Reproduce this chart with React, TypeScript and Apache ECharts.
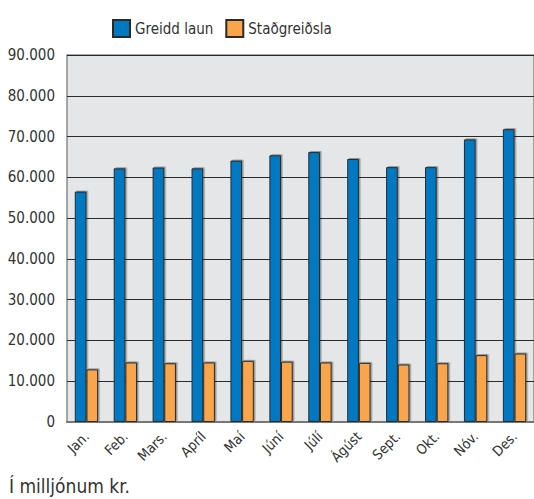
import React, { useEffect, useRef } from "react";
import * as echarts from "echarts";

const months = ["Jan.", "Feb.", "Mars.", "Apríl", "Maí", "Júní", "Júlí", "Ágúst", "Sept.", "Okt.", "Nóv.", "Des."];
const greiddLaun = [56500, 62200, 62400, 62200, 64100, 65400, 66200, 64500, 62500, 62500, 69300, 71800];
const stadgreidsla = [12900, 14600, 14400, 14600, 15000, 14800, 14600, 14500, 14100, 14400, 16400, 16800];
const seriesNames = ["Greidd laun", "Staðgreiðsla"];
const footnote = "Í milljónum kr.";

const FONT = "'DejaVu Sans Condensed', sans-serif";

export default function App() {
  const ref = useRef<HTMLDivElement>(null);
  useEffect(() => {
    if (!ref.current) return;
    const chart = echarts.init(ref.current, null, { renderer: "svg" });
    const barStyle = (color: string) => ({
      color,
      borderColor: "#2a2a2a",
      borderWidth: 1,
      shadowColor: "rgba(0,0,0,0.35)",
      shadowOffsetX: 1.5,
      shadowOffsetY: -1,
      shadowBlur: 1,
    });
    chart.setOption({
      animation: false,
      textStyle: { fontFamily: FONT },
      legend: {
        left: 107,
        top: 14,
        itemWidth: 17,
        itemHeight: 17,
        itemGap: 12,
        icon: "rect",
        textStyle: { fontSize: 15, color: "#333", fontFamily: FONT },
        data: seriesNames,
      },
      grid: {
        left: 67,
        right: 0,
        top: 55,
        bottom: 77,
        show: true,
        backgroundColor: "#e5e6e8",
        borderColor: "#8a8a8a",
        borderWidth: 1.5,
      },
      xAxis: {
        type: "category",
        data: months,
        axisTick: { show: false },
        axisLine: { lineStyle: { color: "#777", width: 2 } },
        axisLabel: {
          rotate: 45,
          interval: 0,
          fontSize: 14,
          color: "#333",
          fontFamily: FONT,
          margin: 12,
        },
      },
      yAxis: {
        type: "value",
        min: 0,
        max: 90000,
        interval: 10000,
        axisLine: { show: false },
        axisTick: { show: false },
        axisLabel: {
          fontSize: 15,
          color: "#333",
          fontFamily: FONT,
          margin: 12,
          formatter: (v: number) => (v === 0 ? "0" : (v / 1000).toFixed(0) + ".000"),
        },
        splitLine: {
          lineStyle: { color: "#2b2b2b", width: 1 },
        },
      },
      series: [
        {
          name: seriesNames[0],
          type: "bar",
          data: greiddLaun,
          barGap: "0%",
          barCategoryGap: "40%",
          itemStyle: barStyle("#0079c2"),
        },
        {
          name: seriesNames[1],
          type: "bar",
          data: stadgreidsla,
          itemStyle: barStyle("#f9a54b"),
        },
      ],
      graphic: [
        {
          type: "text",
          left: 9,
          top: 476,
          style: { text: footnote, fontSize: 19, fill: "#333", fontFamily: FONT },
        },
      ],
    });
    return () => chart.dispose();
  }, []);
  return (
    <div
      ref={ref}
      style={{ position: "absolute", left: 0, top: 0, width: 534, height: 499 }}
    />
  );
}
